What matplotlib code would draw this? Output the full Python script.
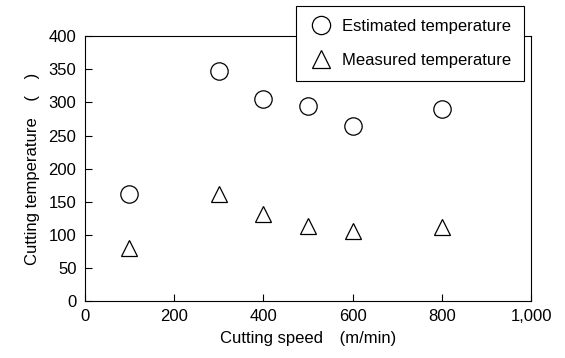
import matplotlib.pyplot as plt

plt.rcParams['font.family'] = ['Liberation Sans', 'Noto Sans CJK JP', 'DejaVu Sans']

# cutting speed (m/min)
speed = [100, 300, 400, 500, 600, 800]
estimated = [162, 348, 305, 294, 264, 290]
measured = [80, 161, 131, 113, 106, 112]

fig = plt.figure(figsize=(5.65, 3.58), dpi=100)
ax = fig.add_axes([0.150, 0.159, 0.790, 0.740])

ax.plot(speed, estimated, 'o', ms=12.5, mfc='white', mec='black', mew=0.9,
        label='Estimated temperature')
ax.plot(speed, measured, '^', ms=12, mfc='white', mec='black', mew=0.9,
        label='Measured temperature')

ax.set_xlim(0, 1000)
ax.set_ylim(0, 400)
ax.set_xticks([0, 200, 400, 600, 800, 1000])
ax.set_xticklabels(['0', '200', '400', '600', '800', '1,000'])
ax.set_yticks(range(0, 401, 50))
ax.tick_params(direction='in', length=5, width=0.8, labelsize=12, pad=6)
for s in ax.spines.values():
    s.set_linewidth(0.8)

ax.set_xlabel('Cutting speed\u3000(m/min)', fontsize=12, labelpad=5)
ax.set_ylabel('Cutting temperature\u3000(\u3000)', fontsize=12, labelpad=6)

leg = fig.legend(loc='upper right', bbox_to_anchor=(0.927, 0.982), fontsize=12,
                 frameon=True, fancybox=False, edgecolor='black', framealpha=1,
                 handletextpad=0.5, borderpad=0.75, labelspacing=1.15,
                 handlelength=1.5, borderaxespad=0, markerscale=1.05)
leg.get_frame().set_linewidth(0.8)

fig.savefig('out.png', dpi=100)
